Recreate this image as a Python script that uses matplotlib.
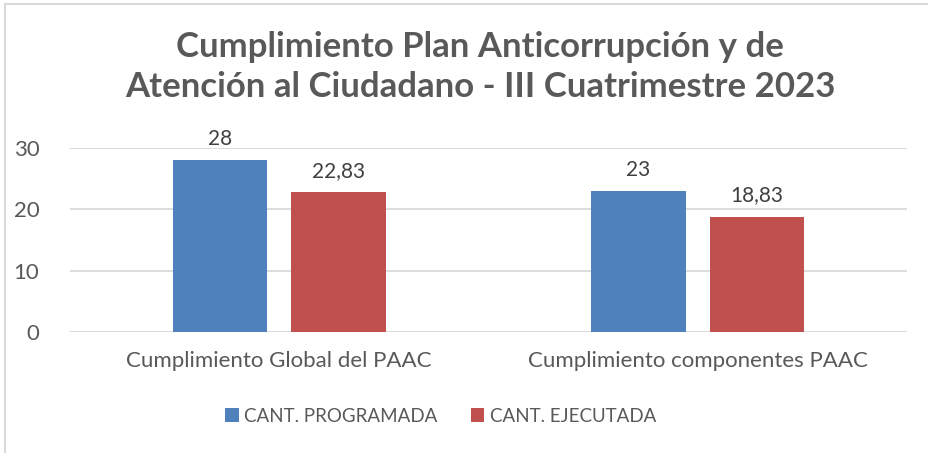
import matplotlib.pyplot as plt
from matplotlib.lines import Line2D
import numpy as np

categorias = ["Cumplimiento Global del PAAC", "Cumplimiento componentes PAAC"]
programada = [28, 23]
ejecutada = [22.83, 18.83]
series = ["CANT. PROGRAMADA", "CANT. EJECUTADA"]
titulo = "Cumplimiento Plan Anticorrupción y de\nAtención al Ciudadano - III Cuatrimestre 2023"

plt.rcParams['font.family'] = ['Lato', 'DejaVu Sans']
gris = '#595959'

fig = plt.figure(figsize=(9.29, 4.53), dpi=100)
ax = fig.add_axes([70/929, 1 - 332/453, 837/929, 184/453])

x = np.arange(len(categorias))
ancho = 0.225
b1 = ax.bar(x - 0.1415, programada, ancho, color='#4F81BD', label=series[0])
b2 = ax.bar(x + 0.1415, ejecutada, ancho, color='#C0504D', label=series[1])

for barras, vals in [(b1, programada), (b2, ejecutada)]:
    for b, v in zip(barras, vals):
        txt = f"{v:g}".replace('.', ',')
        ax.annotate(txt, (b.get_x() + b.get_width()/2, v), xytext=(0, 8),
                    textcoords='offset points', ha='center', va='bottom',
                    fontsize=15, color='#404040')

ax.set_xlim(-0.5, 1.5)
ax.set_ylim(0, 30)
ax.set_yticks([0, 10, 20, 30])
ax.set_xticks(x)
ax.set_xticklabels(categorias)
ax.grid(axis='y', color='#d9d9d9', linewidth=1.3)
ax.set_axisbelow(True)
for s in ax.spines.values():
    s.set_visible(False)
ax.tick_params(length=0, labelsize=16, colors=gris)
ax.tick_params(axis='x', pad=14)
ax.tick_params(axis='y', pad=22)

fig.text(480/929, 1 - 67/453, titulo, ha='center', va='center', fontsize=25,
         fontweight='bold', color=gris, linespacing=1.3)

fig.legend(handles=[b1, b2], loc='center', bbox_to_anchor=(441/929, 1 - 416/453),
           ncol=2, frameon=False, fontsize=13.5, handlelength=0.7, handleheight=0.7,
           handletextpad=0.3, columnspacing=1.8, labelcolor=gris)

fig.add_artist(Line2D([5.5/929, 5.5/929], [0, 1 - 4/453], color='#d9d9d9', linewidth=1.5))
fig.add_artist(Line2D([5.5/929, 1], [1 - 4/453, 1 - 4/453], color='#d9d9d9', linewidth=1.5))

fig.savefig('out.png', dpi=100)
